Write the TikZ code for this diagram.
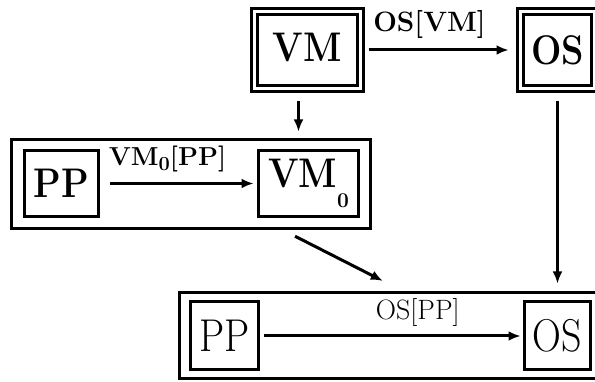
\documentclass[tikz,border=0pt]{standalone}
\usetikzlibrary{arrows.meta}

\newcommand{\topfont}{\fontsize{36}{36}\selectfont\bfseries}
\newcommand{\toplab}{\fontsize{28}{28}\selectfont\bfseries}
\newcommand{\midfont}{\fontsize{36}{36}\selectfont\bfseries}
\newcommand{\midlab}{\fontsize{26}{26}\selectfont\bfseries}
\newcommand{\lowfont}{\fontsize{40}{40}\selectfont}
\newcommand{\lowlab}{\fontsize{28}{28}\selectfont}
\newcommand{\tall}[1]{\scalebox{1}[1.15]{#1}}

\tikzset{
  box/.style={draw,line width=3pt,inner sep=0pt},
  dbox/.style={draw,double,double distance=3pt,line width=3pt,inner sep=0pt},
}

\begin{document}
\begin{tikzpicture}[x=1pt,y=-1pt,>={Latex[length=12pt,width=10pt]},line width=3pt]
		\useasboundingbox (0,0) rectangle (595,382);
		\clip (0,0) rectangle (595,382);
		% top row
		\node[dbox,minimum width=106pt,minimum height=77pt,text depth=6pt,font=\topfont] (VM) at (307.5,50) {\tall{VM}};
		\node[dbox,minimum width=74pt,minimum height=77pt,font=\topfont] (OS) at (557.5,50) {\tall{OS}};
		% middle box
		\node[box,minimum width=359pt,minimum height=89pt] (mid) at (191,184) {};
		\node[box,minimum width=74pt,minimum height=66pt,font=\midfont] (PP0) at (61.5,183.5) {\tall{PP}};
		\node[box,minimum width=100pt,minimum height=66pt,font=\midfont] (VM0) at (308.5,183.5)
		{\tall{VM}\raisebox{-20pt}{\fontsize{21}{21}\selectfont 0}\hspace{14pt}};
		% bottom box
		\node[box,minimum width=423pt,minimum height=86pt] (low) at (391,335.5) {};
		\node[box,minimum width=68pt,minimum height=68pt,font=\lowfont] (PP) at (224.5,336) {\tall{PP}};
		\node[box,minimum width=66pt,minimum height=68pt,font=\lowfont] (OSb) at (557.5,336) {\tall{OS}};
		%
		\path[->]
		(VM) edge[shorten <=6.5pt,shorten >=10.5pt] node[above=10pt,inner sep=0pt,pos=0.43,font=\toplab]{OS[VM]} (OS)
		(PP0) edge[shorten <=9.5pt,shorten >=3.5pt] node[above=10pt,inner sep=0pt,pos=0.43,font=\midlab]
		{VM\raisebox{-5pt}{\fontsize{20}{20}\selectfont 0}[PP]} (VM0)
		(PP) edge[shorten <=3.5pt,shorten >=2.5pt] node[above=8pt,inner sep=0pt,pos=0.6,font=\lowlab]{OS[PP]} (OSb);
		%
		\coordinate (vmfoot) at ([xshift=-9pt]VM.south);
		\coordinate (midfoot) at ([xshift=91.8pt]mid.south);
		\coordinate (lowtop) at ([xshift=11.7pt]low.north);
		\draw[->,shorten <=11.5pt,shorten >=6.5pt] (vmfoot) -- (vmfoot |- mid.north);
		\draw[->,shorten <=13.8pt,shorten >=22.3pt] (midfoot) -- (lowtop);
		\draw[->,shorten <=11.5pt,shorten >=7.5pt] (OS.south) -- (OS.south |- low.north);
\end{tikzpicture}
\end{document}
